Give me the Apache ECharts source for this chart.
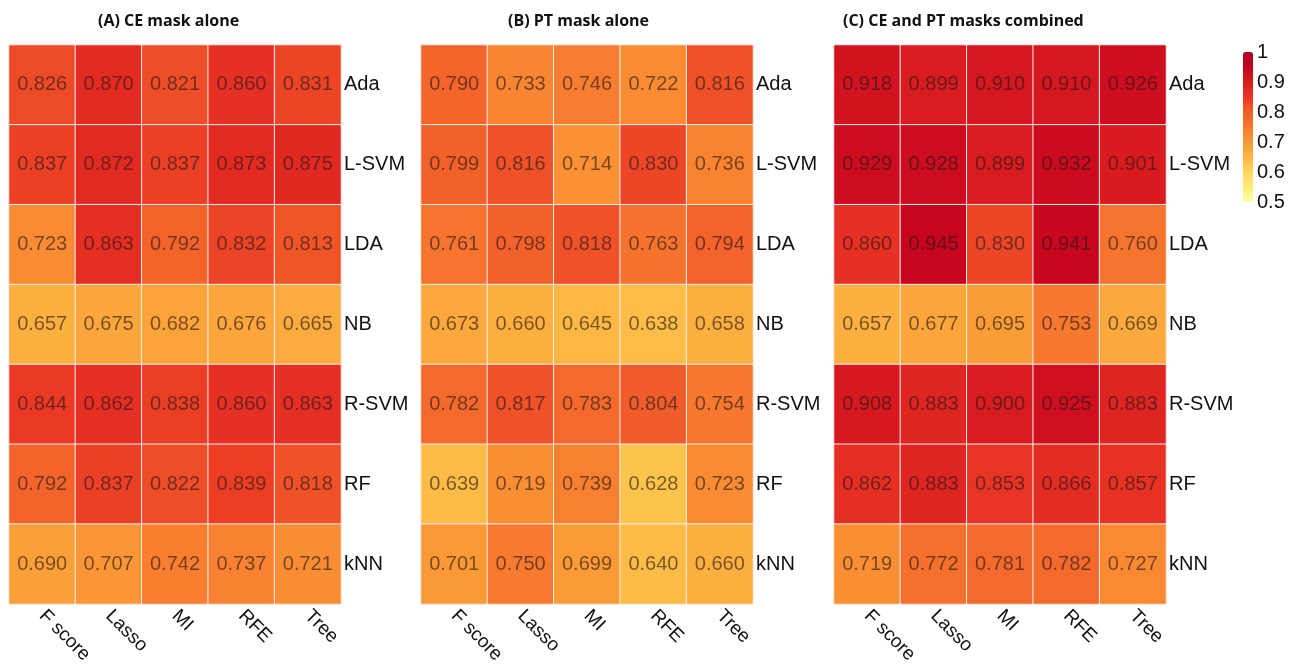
<!DOCTYPE html>
<html>
<head>
<meta charset="utf-8">
<script src="https://cdn.jsdelivr.net/npm/echarts@6/dist/echarts.min.js"></script>
<style>html,body{margin:0;padding:0;background:#fff;}#c{width:1299px;height:667px;}</style>
</head>
<body>
<div id="c"></div>
<script>
const methods = ['F score', 'Lasso', 'MI', 'RFE', 'Tree'];
const classifiers = ['Ada', 'L-SVM', 'LDA', 'NB', 'R-SVM', 'RF', 'kNN'];
const panelTitles = ['(A) CE mask alone', '(B) PT mask alone', '(C) CE and PT masks combined'];
const colorTicks = [0.5, 0.6, 0.7, 0.8, 0.9, 1];

const ceAlone = [
  [0.826, 0.870, 0.821, 0.860, 0.831],
  [0.837, 0.872, 0.837, 0.873, 0.875],
  [0.723, 0.863, 0.792, 0.832, 0.813],
  [0.657, 0.675, 0.682, 0.676, 0.665],
  [0.844, 0.862, 0.838, 0.860, 0.863],
  [0.792, 0.837, 0.822, 0.839, 0.818],
  [0.690, 0.707, 0.742, 0.737, 0.721]
];
const ptAlone = [
  [0.790, 0.733, 0.746, 0.722, 0.816],
  [0.799, 0.816, 0.714, 0.830, 0.736],
  [0.761, 0.798, 0.818, 0.763, 0.794],
  [0.673, 0.660, 0.645, 0.638, 0.658],
  [0.782, 0.817, 0.783, 0.804, 0.754],
  [0.639, 0.719, 0.739, 0.628, 0.723],
  [0.701, 0.750, 0.699, 0.640, 0.660]
];
const combined = [
  [0.918, 0.899, 0.910, 0.910, 0.926],
  [0.929, 0.928, 0.899, 0.932, 0.901],
  [0.860, 0.945, 0.830, 0.941, 0.760],
  [0.657, 0.677, 0.695, 0.753, 0.669],
  [0.908, 0.883, 0.900, 0.925, 0.883],
  [0.862, 0.883, 0.853, 0.866, 0.857],
  [0.719, 0.772, 0.781, 0.782, 0.727]
];
const panels = [ceAlone, ptAlone, combined];

const gridLefts = [9, 421, 834];
const gridW = 332, gridTop = 45, gridH = 559;
const titleLefts = [93, 503, 838];
const FONT = "'Liberation Sans', Arial, Helvetica, sans-serif";

function toCells(m) {
  const out = [];
  m.forEach((row, r) => row.forEach((v, c) => out.push([c, r, v])));
  return out;
}

const grids = [], xAxes = [], yAxes = [], series = [], titles = [];
panels.forEach((m, i) => {
  grids.push({left: gridLefts[i], top: gridTop, width: gridW, height: gridH});
  xAxes.push({
    type: 'category', gridIndex: i, data: methods, position: 'bottom',
    axisLine: {show: false}, axisTick: {show: false}, splitLine: {show: false},
    axisLabel: {rotate: -45, fontSize: 19, color: '#111', fontFamily: FONT, margin: 9, interval: 0}
  });
  yAxes.push({
    type: 'category', gridIndex: i, data: classifiers, position: 'right', inverse: true,
    axisLine: {show: false}, axisTick: {show: false}, splitLine: {show: false},
    axisLabel: {fontSize: 20, color: '#111', fontFamily: FONT, margin: 3, interval: 0}
  });
  series.push({
    type: 'heatmap', xAxisIndex: i, yAxisIndex: i, data: toCells(m),
    itemStyle: {borderColor: '#fbeeee', borderWidth: 1},
    label: {show: true, fontSize: 20, fontFamily: FONT, color: 'rgba(40,25,25,0.62)',
      formatter: p => p.value[2].toFixed(3)},
    emphasis: {disabled: true}
  });
  titles.push({text: panelTitles[i], left: titleLefts[i], top: 8,
    textStyle: {fontSize: 16, fontWeight: 'bold', fontFamily: 'Open Sans', color: '#111'}});
});

// colour bar tick axis
grids.push({left: 1253, top: 52, width: 1, height: 150});
xAxes.push({type: 'value', gridIndex: 3, show: false});
yAxes.push({
  type: 'value', gridIndex: 3, min: 0.5, max: 1, interval: 0.1, position: 'right',
  axisLine: {show: false}, axisTick: {show: false}, splitLine: {show: false},
  axisLabel: {fontSize: 20, color: '#111', fontFamily: FONT, margin: 3,
    formatter: v => colorTicks.indexOf(Math.round(v * 10) / 10) >= 0 ? String(Math.round(v * 10) / 10) : ''}
});

const chart = echarts.init(document.getElementById('c'));
chart.setOption({
  animation: false,
  backgroundColor: '#fff',
  title: titles,
  grid: grids,
  xAxis: xAxes,
  yAxis: yAxes,
  visualMap: {
    type: 'continuous', min: 0.5, max: 1, seriesIndex: [0, 1, 2],
    left: 1243, top: 52, itemWidth: 10, itemHeight: 150, padding: 0,
    calculable: false, showLabel: false, text: null, hoverLink: false,
    inRange: {color: ['#FFFFA8', '#FEEC78', '#FED85A', '#FDB442', '#FB9A36', '#F77A2F',
      '#F2602A', '#E93524', '#D91C1F', '#C4021F', '#AE0026']}
  },
  series: series
});
</script>
</body>
</html>
